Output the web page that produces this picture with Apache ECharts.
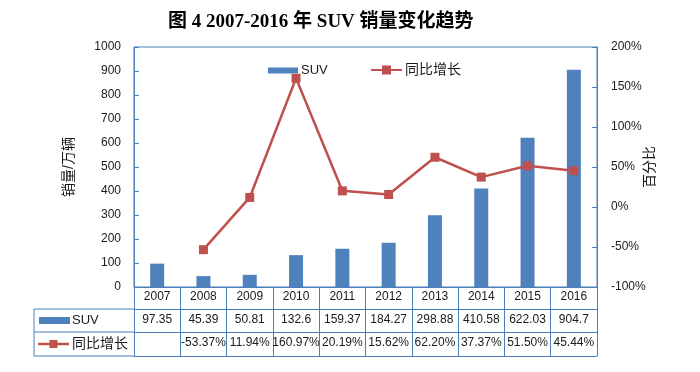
<!DOCTYPE html>
<html><head><meta charset="utf-8">
<script src="https://cdn.jsdelivr.net/npm/echarts@6/dist/echarts.min.js"></script>
<style>html,body{margin:0;padding:0;background:#fff}#c{width:700px;height:372px}</style>
</head><body><div id="c"></div>
<script>
const years = ['2007','2008','2009','2010','2011','2012','2013','2014','2015','2016'];
const suvSales = [97.35,45.39,50.81,132.6,159.37,184.27,298.88,410.58,622.03,904.7];
const growth = [null,-53.37,11.94,160.97,20.19,15.62,62.20,37.37,51.50,45.44];
const suvLabels = ['97.35','45.39','50.81','132.6','159.37','184.27','298.88','410.58','622.03','904.7'];
const growthLabels = ['','-53.37%','11.94%','160.97%','20.19%','15.62%','62.20%','37.37%','51.50%','45.44%'];
const leftTicks = [0,100,200,300,400,500,600,700,800,900,1000];
const rightTicks = [-100,-50,0,50,100,150,200];

const BLUE = '#4F81BD', RED = '#C0504D', LINE = '#4A7EBB', TXT = '#1a1a1a';
const FONT = "'Liberation Sans','Noto Sans CJK SC',sans-serif";
const G = {left:134, right:103, top:47, bottom:85};
const W = 700, H = 372;
const plotL = G.left, plotR = W - G.right, plotB = H - G.bottom;
const rowY = [plotB, plotB+22, plotB+45, plotB+69];
const tableL = 34;

const chart = echarts.init(document.getElementById('c'), null, {renderer:'canvas'});

function tableAxis(idx, offset, tickLen, labels) {
  return {
    type:'category', data: years, position:'bottom', offset: offset,
    gridIndex:0, boundaryGap:true,
    axisLine:{show:true, onZero:false, lineStyle:{color:LINE, width:1}},
    axisTick:{show: tickLen>0, inside:false, length:tickLen, interval:0, lineStyle:{color:LINE, width:1}},
    axisLabel:{show: !!labels, interval:0, margin: idx===0?4:5, color:TXT, fontSize:12, fontFamily:FONT,
      formatter: labels ? (v, i) => labels[i] : undefined},
    splitLine:{show:false}
  };
}

const option = {
  animation:false,
  backgroundColor:'#fff',
  textStyle:{fontFamily:FONT},
  title:{
    text:'图 4 2007-2016 年 SUV 销量变化趋势',
    left:163, top:8,
    textStyle:{fontFamily:"'Liberation Serif','Noto Sans CJK SC',serif", fontWeight:'bold', fontSize:19, color:'#000'}
  },
  legend:[
    {data:['SUV'], left:263, top:59, itemWidth:30, itemHeight:6, itemGap:0,
     textStyle:{fontSize:13, color:TXT, fontFamily:FONT, padding:[0,0,0,-2]}, icon:'rect'},
    {data:['同比增长'], left:366, top:58, itemWidth:31, itemHeight:9,
     icon:'path://M0,3.5 L31,3.5 L31,5.5 L0,5.5 Z M11,0 L20,0 L20,9 L11,9 Z',
     textStyle:{fontSize:14, color:TXT, fontFamily:FONT, padding:[0,0,0,-2]}}
  ],
  grid:{left:G.left, right:G.right, top:G.top, bottom:G.bottom, show:true, borderColor:LINE, borderWidth:1, containLabel:false},
  xAxis:[
    tableAxis(0, 0, 22, years),
    tableAxis(1, 22, 23, suvLabels),
    tableAxis(2, 45, 24, growthLabels),
    tableAxis(3, 69, 0, null)
  ],
  yAxis:[
    {type:'value', min:leftTicks[0], max:leftTicks[leftTicks.length-1], interval:100, position:'left',
     name:'销量/万辆', nameLocation:'middle', nameGap:58, nameRotate:90, nameMoveOverlap:false,
     nameTextStyle:{fontSize:14, color:TXT, fontFamily:FONT},
     axisLine:{show:true, lineStyle:{color:LINE}},
     axisTick:{show:true, inside:true, length:5, lineStyle:{color:LINE}},
     axisLabel:{margin:13, color:TXT, fontSize:12, fontFamily:FONT, formatter:(v)=>String(v)},
     splitLine:{show:false}},
    {type:'value', min:rightTicks[0], max:rightTicks[rightTicks.length-1], interval:50, position:'right',
     name:'百分比', nameLocation:'middle', nameGap:46, nameRotate:90, nameMoveOverlap:false,
     nameTextStyle:{fontSize:14, color:TXT, fontFamily:FONT},
     axisLine:{show:true, lineStyle:{color:LINE}},
     axisTick:{show:true, inside:true, length:5, lineStyle:{color:LINE}},
     axisLabel:{margin:14, color:TXT, fontSize:12, fontFamily:FONT, formatter:'{value}%'},
     splitLine:{show:false}}
  ],
  series:[
    {name:'SUV', type:'bar', data:suvSales, xAxisIndex:0, yAxisIndex:0, barWidth:14,
     itemStyle:{color:BLUE}},
    {name:'同比增长', type:'line', data:growth, xAxisIndex:0, yAxisIndex:1,
     symbol:'rect', symbolSize:9, connectNulls:false,
     lineStyle:{color:RED, width:2.5}, itemStyle:{color:RED}}
  ],
  graphic:[
    {type:'line', shape:{x1:tableL, y1:rowY[1], x2:plotL, y2:rowY[1]}, style:{stroke:LINE, lineWidth:1}},
    {type:'line', shape:{x1:tableL, y1:rowY[2], x2:plotL, y2:rowY[2]}, style:{stroke:LINE, lineWidth:1}},
    {type:'line', shape:{x1:tableL, y1:rowY[3], x2:plotL, y2:rowY[3]}, style:{stroke:LINE, lineWidth:1}},
    {type:'line', shape:{x1:tableL, y1:rowY[1], x2:tableL, y2:rowY[3]}, style:{stroke:LINE, lineWidth:1}},
    {type:'rect', shape:{x:tableL+5, y:(rowY[1]+rowY[2])/2-3.5, width:31, height:7}, style:{fill:BLUE}},
    {type:'text', x:tableL+38, y:(rowY[1]+rowY[2])/2, style:{text:'SUV', fill:TXT, font:"13px "+FONT, verticalAlign:'middle'}},
    {type:'line', shape:{x1:tableL+4, y1:(rowY[2]+rowY[3])/2, x2:tableL+35, y2:(rowY[2]+rowY[3])/2}, style:{stroke:RED, lineWidth:2.5}},
    {type:'rect', shape:{x:tableL+15.5, y:(rowY[2]+rowY[3])/2-4, width:8, height:8}, style:{fill:RED}},
    {type:'text', x:tableL+38, y:(rowY[2]+rowY[3])/2, style:{text:'同比增长', fill:TXT, font:"14px "+FONT, verticalAlign:'middle'}}
  ]
};
chart.setOption(option);
</script></body></html>
